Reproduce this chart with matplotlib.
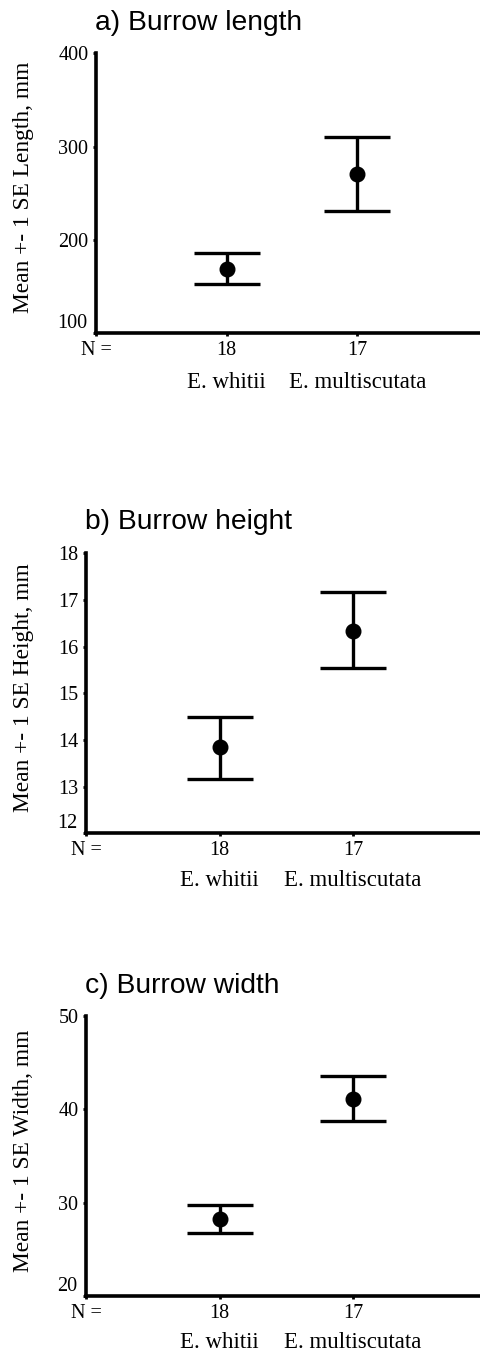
import matplotlib
matplotlib.use("Agg")
import matplotlib.pyplot as plt
import numpy as np

# ---- data ----
categories = ["E. whitii", "E. multiscutata"]
n_labels = ["18", "17"]

length_mean = [169, 271]
length_lower = [153, 231]
length_upper = [186, 310]

height_mean = [13.84, 16.34]
height_lower = [13.16, 15.55]
height_upper = [14.50, 17.17]

width_mean = [28.25, 41.1]
width_lower = [26.8, 38.7]
width_upper = [29.7, 43.6]

titles = ["a) Burrow length", "b) Burrow height", "c) Burrow width"]
ylabels = ["Mean +- 1 SE Length, mm", "Mean +- 1 SE Height, mm", "Mean +- 1 SE Width, mm"]
yticks_list = [[100, 200, 300, 400], [12, 13, 14, 15, 16, 17, 18], [20, 30, 40, 50]]

W, H = 480, 1356
fig = plt.figure(figsize=(W / 100, H / 100), dpi=100)

# axes boxes in pixels: left, top, bottom, xmax
boxes = [
    (96, 53.3, 333.3, 2.94),
    (86, 553.3, 833.3, 2.95),
    (86, 1016, 1296, 2.95),
]
title_pos = [(95, 23), (85, 522), (85, 986)]
cat_offset_px = [49, 47, 47]

serif = ["Liberation Serif", "DejaVu Serif"]
sans = ["Liberation Sans", "DejaVu Sans"]

panels = [
    (length_mean, length_lower, length_upper),
    (height_mean, height_lower, height_upper),
    (width_mean, width_lower, width_upper),
]

TICK_FS = 14.5
for i, (means, lows, ups) in enumerate(panels):
    left, top, bottom, xmax = boxes[i]
    ax = fig.add_axes([left / W, 1 - bottom / H, (W - left) / W, (bottom - top) / H])
    x = np.arange(1, len(categories) + 1)
    means = np.array(means)
    yerr = [means - np.array(lows), np.array(ups) - means]
    ax.errorbar(x, means, yerr=yerr, fmt="o", color="black", ms=10.5,
                elinewidth=2.4, capsize=23.5, capthick=2.4)
    yt = yticks_list[i]
    ax.set_ylim(yt[0], yt[-1])
    ax.set_xlim(0, xmax)
    ax.set_yticks(yt)
    ax.set_yticklabels([""] + [str(v) for v in yt[1:]], family=serif, fontsize=TICK_FS)
    ax.annotate(str(yt[0]), xy=(0, yt[0]), xycoords=("axes fraction", "data"),
                xytext=(-6, 7), textcoords="offset points", ha="right", va="center",
                family=serif, fontsize=TICK_FS)
    ax.set_xticks([0] + list(x))
    ax.set_xticklabels(["N ="] + n_labels, family=serif, fontsize=TICK_FS)
    ax.tick_params(axis="both", direction="out", length=2.5, width=2, pad=3)
    for s in ["top", "right"]:
        ax.spines[s].set_visible(False)
    for s in ["left", "bottom"]:
        ax.spines[s].set_linewidth(2.6)
    ax.set_ylabel(ylabels[i], family=serif, fontsize=16.8)
    ax.yaxis.set_label_coords((34 - left) / (W - left), 0.52)
    for xi, c in zip(x, categories):
        ax.annotate(c, xy=(xi, 0), xycoords=("data", "axes fraction"),
                    xytext=(0, -cat_offset_px[i] * 0.72), textcoords="offset points",
                    ha="center", va="center", family=serif, fontsize=16.5)
    tx, ty = title_pos[i]
    fig.text(tx / W, 1 - ty / H, titles[i], family=sans, fontsize=20.3,
             ha="left", va="center")

fig.savefig("out.png", dpi=100)
